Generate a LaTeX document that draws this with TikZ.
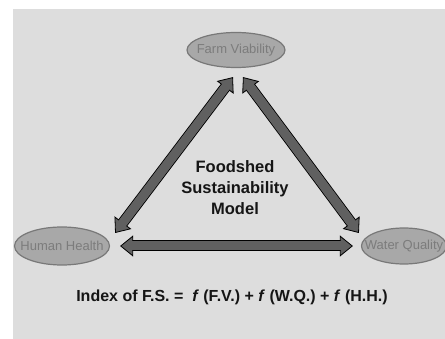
\documentclass[tikz,border=0pt]{standalone}
\usepackage{fontspec}
\setmainfont{Liberation Sans}
\usepackage{xcolor}
\usetikzlibrary{shapes.geometric}
\usetikzlibrary{arrows.meta}
\definecolor{paper}{HTML}{DDDDDD}
\definecolor{pillarfill}{HTML}{A8A8A8}
\definecolor{pillarline}{HTML}{787878}
\definecolor{pillartext}{HTML}{7C7C7C}
\definecolor{linkgray}{HTML}{606060}
\definecolor{ink}{HTML}{151515}
\newcommand{\pillarlabel}[1]{\makebox[0pt]{#1}}
\tikzset{bigtip/.tip={Triangle[length=13pt, width=21pt, line width=0.8pt, color=black, fill=linkgray]}}
\tikzstyle{pillar} = [ellipse, draw=pillarline, fill=pillarfill, line width=1.2pt,
inner sep=0pt, text=pillartext, font=\fontsize{13}{15}\selectfont]
\tikzstyle{link} = [line width=9pt, draw=linkgray, bigtip-bigtip,
preaction={draw=black, line width=11pt, arrows=-, shorten <=12pt, shorten >=12pt},
postaction={draw=linkgray, line width=9pt, arrows=-, shorten <=11pt, shorten >=11pt}]

\begin{document}
\begin{tikzpicture}[x=1pt, y=-1pt]
        \useasboundingbox (0,0) rectangle (445,339);
        \fill[paper] (13,9) rectangle (445,339);
        % the three pillars
        \node[pillar, minimum width=98pt, minimum height=35pt] (fv) at (236,50) {\pillarlabel{Farm Viability}};
        \node[pillar, minimum width=95pt, minimum height=38pt] (hh) at (62,246) {\pillarlabel{Human Health}};
        \node[pillar, minimum width=85pt, minimum height=36pt] (wq) at (404,246) {\pillarlabel{Water Quality}};
        \draw[link] ([shift={(-3,9)}]fv.south) -- ([shift={(5,-13)}]hh.east);
        \draw[link] ([shift={(7,9)}]fv.south) -- ([shift={(-2,-13)}]wq.west);
        \draw[link] ([xshift=10pt]hh.east) -- ([xshift=-8pt]wq.west);
        \node[text=ink, font=\bfseries\fontsize{16.5}{21}\selectfont, align=center] (model) at (235,188) {Foodshed\\Sustainability\\Model};
        \node[text=ink, font=\bfseries\fontsize{16}{19}\selectfont] (index) at (232,297)
            {Index of F.S. = \ \textit{f} (F.V.) + \textit{f} (W.Q.) + \textit{f} (H.H.)};
    \end{tikzpicture}
\end{document}
